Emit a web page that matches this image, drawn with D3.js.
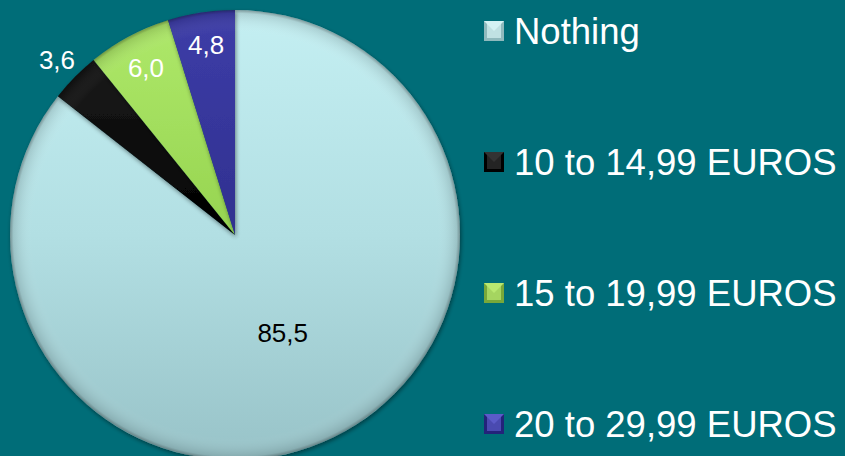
<!DOCTYPE html>
<html>
<head>
<meta charset="utf-8">
<script src="https://cdn.jsdelivr.net/npm/d3@7"></script>
<style>
  body { margin: 0; background: #006d78; }
  svg { display: block; font-family: "Liberation Sans", Arial, sans-serif; }
</style>
</head>
<body>
<div id="chart"></div>
<script>
const categories = ["Nothing", "10 to 14,99 EUROS", "15 to 19,99 EUROS", "20 to 29,99 EUROS"];
const values = [85.5, 3.6, 6.0, 4.8];
const valueLabels = ["85,5", "3,6", "6,0", "4,8"];

const width = 845,
      height = 456,
      radius = 225,
      cx = 235,
      cy = 235;

const colors = ["url(#gNothing)", "url(#gBlack)", "url(#gGreen)", "url(#gBlue)"];
const legendColors = [["#d4f2f4", "#8fb9bd"], ["#333", "#000"], ["#b8e870", "#78a83a"], ["#5b5bc8", "#23237a"]];
const labelColor = ["#000", "#fff", "#fff", "#fff"];
const labelRadius = [109, 250, 189, 192];

let svg = d3.select("#chart")
    .append("svg")
    .attr("width", width)
    .attr("height", height);

svg.append("rect").attr("width", width).attr("height", height).attr("fill", "#006d78");

let defs = svg.append("defs");
function lin(id, stops, x2, y2) {
  let g = defs.append("linearGradient").attr("id", id)
    .attr("x1", 0).attr("y1", 0).attr("x2", x2).attr("y2", y2);
  stops.forEach(s => g.append("stop").attr("offset", s[0]).attr("stop-color", s[1]));
}
lin("gNothing", [[0, "#c4eff2"], [0.5, "#b2dfe3"], [1, "#98c3c8"]], 0, 1);
lin("gBlack", [[0, "#1a1a1a"], [1, "#000"]], 0, 1);
lin("gGreen", [[0, "#aee86a"], [1, "#96d450"]], 0, 1);
lin("gBlue", [[0, "#3d3da8"], [1, "#30308f"]], 0, 1);

let shadow = defs.append("filter").attr("id", "shadow")
  .attr("x", "-10%").attr("y", "-10%").attr("width", "120%").attr("height", "120%");
shadow.append("feDropShadow").attr("dx", 1).attr("dy", 2).attr("stdDeviation", 2)
  .attr("flood-color", "#000").attr("flood-opacity", 0.45);

let rim = defs.append("radialGradient").attr("id", "rim")
  .attr("cx", "50%").attr("cy", "50%").attr("r", "50%");
rim.append("stop").attr("offset", 0.9).attr("stop-color", "#fff").attr("stop-opacity", 0);
rim.append("stop").attr("offset", 0.985).attr("stop-color", "#000").attr("stop-opacity", 0.12);
rim.append("stop").attr("offset", 1).attr("stop-color", "#000").attr("stop-opacity", 0.35);

let pie = d3.pie().sort(null).value(d => d);
let arcs = pie(values);
let arc = d3.arc().innerRadius(0).outerRadius(radius);

let g = svg.append("g").attr("transform", `translate(${cx},${cy})`);

g.selectAll("path.slice")
  .data(arcs)
  .enter().append("path")
  .attr("class", "slice")
  .attr("d", arc)
  .attr("fill", (d, i) => colors[i])
  .attr("filter", "url(#shadow)");

g.append("circle").attr("r", radius).attr("fill", "url(#rim)").attr("pointer-events", "none");

g.selectAll("text.val")
  .data(arcs)
  .enter().append("text")
  .attr("class", "val")
  .attr("transform", (d, i) => {
    let c = d3.arc().innerRadius(labelRadius[i]).outerRadius(labelRadius[i]).centroid(d);
    return `translate(${c[0]},${c[1]})`;
  })
  .attr("text-anchor", "middle")
  .attr("dy", "0.35em")
  .attr("font-size", 26)
  .attr("fill", (d, i) => labelColor[i])
  .text((d, i) => valueLabels[i]);

let y = d3.scalePoint().domain(categories).range([31, 424]);

let legend = svg.append("g").selectAll("g")
  .data(categories)
  .enter().append("g")
  .attr("transform", d => `translate(484,${y(d)})`);

legend.append("rect")
  .attr("x", 0).attr("y", -10).attr("width", 20).attr("height", 20)
  .attr("fill", (d, i) => legendColors[i][1]);
legend.append("path")
  .attr("d", "M0,-10L20,-10L10,0Z")
  .attr("fill", (d, i) => legendColors[i][0]);
legend.append("rect")
  .attr("x", 3).attr("y", -7).attr("width", 14).attr("height", 14)
  .attr("fill", (d, i) => legendColors[i][0]).attr("opacity", 0.7);

legend.append("text")
  .attr("x", 30)
  .attr("dy", "0.36em")
  .attr("font-size", 36.5)
  .attr("fill", "#fff")
  .text(d => d);
</script>
</body>
</html>
